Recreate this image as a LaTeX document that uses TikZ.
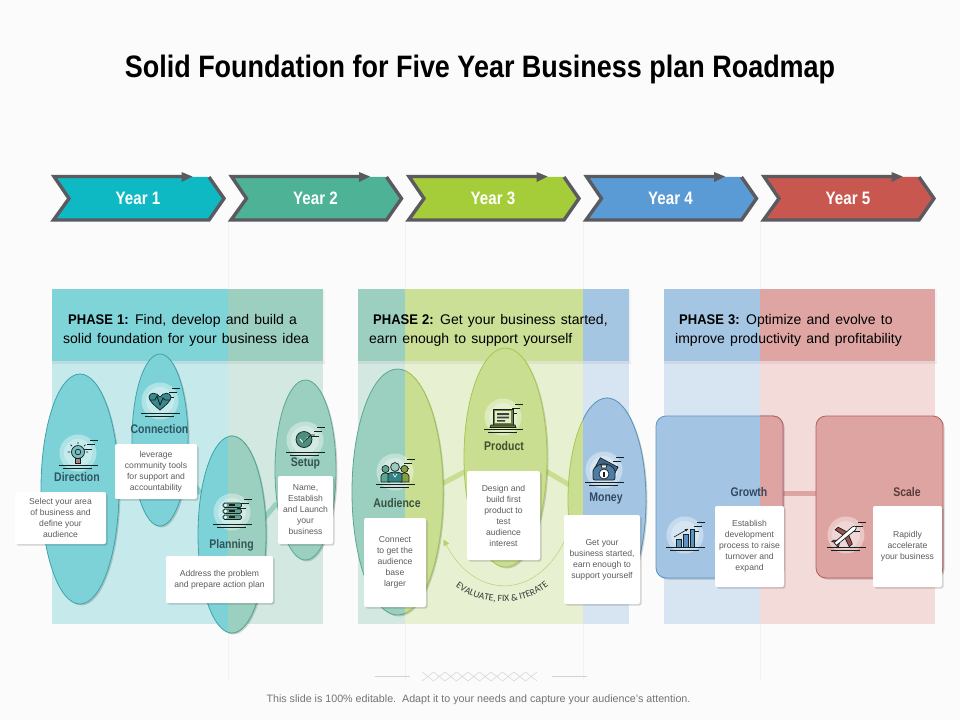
\documentclass[tikz,border=0pt]{standalone}
\usepackage{fontspec}
\usetikzlibrary{shapes.geometric,shadows,arrows.meta,decorations.text,calc}
\setmainfont{Liberation Sans}
\newfontfamily\condfont[FakeStretch=0.84]{Liberation Sans}
\newfontfamily\titlefont[FakeStretch=0.87]{Liberation Sans}
\newfontfamily\phasefont[WordSpace=1.35]{Liberation Sans}
\newfontfamily\phasebold[FakeStretch=0.93,WordSpace=1.1]{Liberation Sans Bold}
\newfontfamily\carlitofont{Carlito}
\definecolor{pagebg}{HTML}{FBFBFB}
\definecolor{tealF}{HTML}{7DD2D8}\definecolor{tealB}{HTML}{3FA3A8}\definecolor{tealH}{HTML}{7FD4D8}\definecolor{tealP}{HTML}{C6E9EB}
\definecolor{mintF}{HTML}{9BCFC0}\definecolor{mintB}{HTML}{5AA892}\definecolor{mintH}{HTML}{9DCFC1}\definecolor{mintP}{HTML}{D2E8E1}
\definecolor{limeF}{HTML}{C9DE91}\definecolor{limeB}{HTML}{A5C94F}\definecolor{limeH}{HTML}{CBDF96}\definecolor{limeP}{HTML}{E8F0D2}
\definecolor{bluF}{HTML}{A3C5E3}\definecolor{bluB}{HTML}{5B93C5}\definecolor{bluH}{HTML}{A5C6E3}\definecolor{bluP}{HTML}{D7E4F2}
\definecolor{redF}{HTML}{DEA4A2}\definecolor{redB}{HTML}{B75E5A}\definecolor{redH}{HTML}{DFA5A3}\definecolor{redP}{HTML}{F3DBDA}
\definecolor{chevA}{HTML}{0FB9C4}\definecolor{chevB}{HTML}{4EB396}\definecolor{chevC}{HTML}{A5CD39}\definecolor{chevD}{HTML}{5B9BD5}\definecolor{chevE}{HTML}{C8574F}
\definecolor{edgeGray}{HTML}{5A5A60}
\definecolor{cardText}{HTML}{5C5C5C}
\definecolor{iconInk}{HTML}{16201F}
\definecolor{tagTeal}{HTML}{2F5560}\definecolor{tagMint}{HTML}{33544E}\definecolor{tagLime}{HTML}{434F2E}\definecolor{tagBlue}{HTML}{34485F}\definecolor{tagRed}{HTML}{553B3A}
\pgfdeclarelayer{bands}\pgfdeclarelayer{links}\pgfsetlayers{bands,links,main}
\tikzset{
  softshadow/.style={drop shadow={shadow xshift=1.5pt,shadow yshift=-1.5pt,opacity=.16,fill=black}},
  lobeshape/.style={ellipse,inner sep=0pt,line width=.8pt},
  blockshape/.style={rectangle,rounded corners=10pt,inner sep=0pt,line width=.8pt},
  card/.style={rectangle,fill=white,rounded corners=2pt,inner sep=0pt,align=center,text=cardText,
     font=\fontsize{8.6}{11}\selectfont,softshadow},
  tag/.style={font=\condfont\bfseries\fontsize{12.5}{14}\selectfont,inner sep=0pt},
  yearlabel/.style={font=\condfont\bfseries\fontsize{18}{20}\selectfont,text=white,inner sep=0pt},
  phasetext/.style={anchor=west,align=left,inner sep=0pt,text=black,font=\phasefont\fontsize{14}{19}\selectfont},
  link/.style={line width=5pt},
  ink/.style={draw=iconInk,line width=.7pt},
  inkline/.style={draw=iconInk,line width=.8pt},
}
% chevron: name, left x, fill, label
\newcommand{\yearchev}[4]{%
  \fill[#3] (#2+1.5,176.5) -- (#2+17,198.5) -- (#2+1.5,220) -- (#2+157,220) -- (#2+172,198.5) -- (#2+157,177) -- cycle;
  \draw[edgeGray,line width=3.4pt,miter limit=10] (#2+157,177) -- (#2+172,198.5) -- (#2+157,220) -- (#2+1.5,220) -- (#2+17,198.5) -- (#2+2,176.5) -- (#2+134,176.5);
  \fill[edgeGray] (#2+129.5,172) -- (#2+140.5,176.5) -- (#2+129.5,182) -- cycle;
  \node[yearlabel] (#1) at (#2+86,198) {#4};
}
\newcommand{\bandseg}[3]{%
  \fill[#3P] (#1,361) rectangle (#2,624);
  \fill[#3H] (#1,289) rectangle (#2,361);
}
\newcommand{\headshadow}[2]{%
  \fill[black,opacity=.03] (#1+1,361) rectangle (#2+2,363.5);
  \fill[black,opacity=.03] (#2,290) rectangle (#2+2,363.5);
}
% lobe: name, cx, cy, w, h, split x, left family, right family
\newcommand{\lobe}[8]{%
  \node[lobeshape,softshadow,minimum width=#4pt,minimum height=#5pt,fill=#7F,draw=#7B] (#1) at (#2,#3) {};
  \begin{scope}\clip (#6,0) rectangle (960,720);
  \node[lobeshape,minimum width=#4pt,minimum height=#5pt,fill=#8F,draw=#8B] (#1r) at (#2,#3) {};
  \end{scope}
}
\newcommand{\block}[8]{%
  \node[blockshape,softshadow,minimum width=#4pt,minimum height=#5pt,fill=#7F,draw=#7B] (#1) at (#2,#3) {};
  \begin{scope}\clip (#6,0) rectangle (960,720);
  \node[blockshape,minimum width=#4pt,minimum height=#5pt,fill=#8F,draw=#8B] (#1r) at (#2,#3) {};
  \end{scope}
}
\newcommand{\iconbase}{%
  \fill[white,opacity=.38] (0,0) circle (18.5pt);
  \fill[white,opacity=.30] (0,0) circle (14pt);
  \draw[inkline] (12,-13) -- (20,-13) (9,-8.5) -- (17,-8.5) (5,-4) -- (14,-4);
  \draw[inkline] (-19,12) -- (20,12) (-15,15) -- (14,15);
}
\begin{document}
\begin{tikzpicture}[x=1pt,y=-1pt]
\useasboundingbox (0,0) rectangle (960,720);
\begin{pgfonlayer}{bands}
\fill[pagebg] (0,0) rectangle (960,720);
\foreach \gx in {228,405,583,760}{\draw[black!5,line width=.5pt] (\gx,222) -- (\gx,680);}
\headshadow{52}{323}\headshadow{358}{629}\headshadow{664}{935}
\bandseg{52}{228}{teal}\bandseg{228}{323}{mint}
\bandseg{358}{405}{mint}\bandseg{405}{583}{lime}\bandseg{583}{629}{blu}
\bandseg{664}{760}{blu}\bandseg{760}{935}{red}
\fill[black,opacity=.05] (52,361) rectangle (323,364);
\fill[black,opacity=.05] (358,361) rectangle (629,364);
\fill[black,opacity=.05] (664,361) rectangle (935,364);
\end{pgfonlayer}

\node[font=\titlefont\bfseries\fontsize{31}{34}\selectfont,text=black,inner sep=0pt] (title) at (480,69) {Solid Foundation for Five Year Business plan Roadmap};

\yearchev{yearA}{52}{chevA}{Year 1}
\yearchev{yearB}{229.5}{chevB}{Year 2}
\yearchev{yearC}{407}{chevC}{Year 3}
\yearchev{yearD}{584.5}{chevD}{Year 4}
\yearchev{yearE}{762}{chevE}{Year 5}

\node[phasetext] (phaseA) at (63,330.5) {\hspace*{5pt}{\phasebold PHASE 1:} Find, develop and build a\\solid foundation for your business idea};
\node[phasetext] (phaseB) at (369,330.5) {\hspace*{4pt}{\phasebold PHASE 2:} Get your business started,\\earn enough to support yourself};
\node[phasetext] (phaseC) at (675,330.5) {\hspace*{4pt}{\phasebold PHASE 3:} Optimize and evolve to\\improve productivity and profitability};

% lobes
\lobe{direction}{80}{489}{78}{230}{2000}{teal}{teal}
\lobe{connection}{160}{440}{56}{172}{2000}{teal}{teal}
\lobe{planning}{232}{534.5}{68}{197}{228}{teal}{mint}
\lobe{setup}{305.5}{470}{61}{180}{2000}{mint}{mint}
\lobe{audience}{397.5}{492}{91}{246}{405}{mint}{lime}
\lobe{product}{505.5}{457.5}{83}{219}{2000}{lime}{lime}
\lobe{money}{607}{500}{78}{204}{583}{lime}{blu}
\block{growth}{719.5}{497}{127}{162}{760}{blu}{red}
\block{scale}{879.5}{497}{127}{162}{2000}{red}{red}

% connectors
\begin{pgfonlayer}{links}
\draw[link,tealF] (direction) -- (connection);
\draw[link,tealF!60!mintF] (connection) -- (planning);
\draw[link,mintF] ([yshift=-21pt]planning.center) -- (setup);
\draw[link,limeF] ([yshift=-15pt]audience.center) -- ([yshift=7pt]product.center);
\draw[link,limeF] ([yshift=10pt]product.center) -- ([yshift=-7pt]money.center);
\draw[link,redF] ([yshift=4pt]growth.center) -- ([yshift=4pt]scale.center);
\end{pgfonlayer}

% feedback arc
\coordinate (evalStart) at (564,542);
\coordinate (evalEnd) at (443.5,539.5);
\draw[limeB!85!white,line width=.6pt,dash pattern=on 2pt off .6pt,-{Triangle[length=6pt,width=6pt]}] (evalStart) .. controls (535,600) and (475,600) .. (evalEnd);
\path[decorate,decoration={text along path,text align=center,
  text={|\carlitofont\fontsize{9.6}{10}\selectfont\color{black!78}|EVALUATE, FIX {\&} ITERATE}}]
  (449,581) .. controls (478,609) and (527,609) .. (555,580);

% cards
\node[card,minimum width=91pt,minimum height=52pt] (cardDirection) at (60.5,518) {Select  your area\\of business and\\define your\\audience};
\node[card,minimum width=82pt,minimum height=55pt] (cardConnection) at (156,471.5) {leverage\\community tools\\for support and\\accountability};
\node[card,minimum width=107pt,minimum height=47pt] (cardPlanning) at (219.5,579.5) {Address the problem\\and prepare action plan};
\node[card,minimum width=55pt,minimum height=68pt] (cardSetup) at (305.5,510) {Name,\\Establish\\and Launch\\your\\business};
\node[card,minimum width=62pt,minimum height=89pt] (cardAudience) at (395,562.5) {Connect\\to get the\\audience\\base\\larger};
\node[card,minimum width=73pt,minimum height=89pt] (cardProduct) at (503.5,515.5) {Design and\\build first\\product to\\test\\audience\\interest};
\node[card,minimum width=76pt,minimum height=89pt] (cardMoney) at (602,559.5) {Get your\\business started,\\earn enough to\\support yourself};
\node[card,minimum width=69pt,minimum height=81pt] (cardGrowth) at (749.5,546.5) {Establish\\development\\process to raise\\turnover and\\expand};
\node[card,minimum width=69pt,minimum height=81pt] (cardScale) at (907.5,546.5) {Rapidly\\accelerate\\your business};

% labels
\node[tag,text=tagTeal] (tagDirection) at (77,477) {Direction};
\node[tag,text=tagTeal] (tagConnection) at (159.5,429) {Connection};
\node[tag,text=tagTeal!60!tagMint] (tagPlanning) at (231.5,545) {Planning};
\node[tag,text=tagMint] (tagSetup) at (305.5,463) {Setup};
\node[tag,text=tagMint!60!tagLime] (tagAudience) at (397,503) {Audience};
\node[tag,text=tagLime] (tagProduct) at (504,446) {Product};
\node[tag,text=tagBlue] (tagMoney) at (606,498) {Money};
\node[tag,text=tagBlue] (tagGrowth) at (749,492.5) {Growth};
\node[tag,text=tagRed] (tagScale) at (907,492.5) {Scale};

% icons
\begin{scope}[shift={(78,453)}]\iconbase
  \draw[ink,fill=tealB!70!white] (0,-1) circle (6.5pt);
  \draw[ink] (0,-1) circle (2.8pt);
  \draw[ink,fill=redF!80!black] (-2.5,5.5) rectangle (2.5,10);
  \draw[ink] (0,-9) -- (0,-11) (-6,-7) -- (-7.5,-8.5) (6,-7) -- (7.5,-8.5) (-8,-1) -- (-10.5,-1) (8,-1) -- (10,-1);
\end{scope}
\begin{scope}[shift={(160,401)}]\iconbase
  \draw[ink,fill=tealB!85!black] (0,9) .. controls (-6,4) and (-11,0) .. (-11,-4) .. controls (-11,-9) and (-3,-9) .. (0,-4) .. controls (3,-9) and (11,-9) .. (11,-4) .. controls (11,0) and (6,4) .. (0,9) -- cycle;
  \draw[iconInk,line width=.8pt] (-10,-1) -- (-5,-1) -- (-3,-5) -- (0,4) -- (3,-3) -- (5,-1) -- (10,-1);
\end{scope}
\begin{scope}[shift={(232,512)}]\iconbase
  \foreach \sy/\sa in {-7/-9,-1/-3,5/3}{
    \draw[ink,fill=mintB,rounded corners=1.5pt] (-9,\sa) rectangle (9.5,\sa+4.5);
    \fill[white] (-6.5,\sy+.2) circle (1.6pt);
    \fill[iconInk] (-3,\sa+1) rectangle (3,\sa+3);
  }
\end{scope}
\begin{scope}[shift={(305,440)}]\iconbase
  \draw[ink,fill=mintB!85!black] (-1,-.5) circle (8pt);
  \draw[white,line width=.9pt] (-5,-1) -- (-2,2.5) -- (3,-3);
  \draw[iconInk,line width=.8pt] (-2,2.5) -- (6,-5) -- (10,-5);
\end{scope}
\begin{scope}[shift={(395,472)}]\iconbase
  \draw[ink,fill=mintB] (-14,10) -- (-14,4) .. controls (-14,0) and (-5,0) .. (-5,4) -- (-5,10) -- cycle;
  \draw[ink,fill=mintB] (-9.5,-3) circle (3.6pt);
  \draw[ink,fill=limeB!80!black] (14,10) -- (14,4) .. controls (14,0) and (5,0) .. (5,4) -- (5,10) -- cycle;
  \draw[ink,fill=limeB!80!black] (9.5,-3) circle (3.6pt);
  \draw[ink,fill=tealB!80!black] (-7,10) -- (-7,3) .. controls (-7,-1) and (7,-1) .. (7,3) -- (7,10) -- cycle;
  \draw[ink,fill=mintB!60!white] (0,-5) circle (4.4pt);
  \draw[white,line width=.6pt] (-2,2) -- (0,5) -- (2,2);
\end{scope}
\begin{scope}[shift={(503,417)}]\iconbase
  \draw[ink,fill=limeB!45!black!70!limeF] (-10,-8) rectangle (10,8);
  \fill[limeF!50!white] (-8,-6) rectangle (8,6);
  \fill[iconInk!85] (-6,-4) rectangle (6,-2) (-6,-.5) rectangle (6,1.3) (-6,3) rectangle (2,4.5);
  \draw[ink,fill=limeB!60!black] (-12,8) -- (12,8) -- (13,10.5) -- (-13,10.5) -- cycle;
\end{scope}
\begin{scope}[shift={(604,470)}]\iconbase
  \draw[ink,fill=bluB!70!black,rotate=-28] (-9,-9) rectangle (11,5);
  \draw[ink,fill=bluB!85!black,rounded corners=2pt] (-11,-1) -- (-4,-6) -- (4,-6) -- (11,-1) -- (11,10) -- (-11,10) -- cycle;
  \draw[ink,fill=white] (-3,-5) -- (3,-5) -- (2,-2) -- (-2,-2) -- cycle;
  \draw[ink,fill=white] (0,4) circle (5pt);
  \fill[iconInk] (-.8,1.5) rectangle (.8,6.5);
\end{scope}
\begin{scope}[shift={(685,535)}]\iconbase
  \draw[ink,fill=bluB] (-9,4) rectangle (-4,12);
  \draw[ink,fill=bluB] (-2,-1) rectangle (3,12);
  \draw[ink,fill=bluB] (5,-6) rectangle (9,12);
  \draw[iconInk,line width=.6pt] (-11,2) -- (3,-6);
  \fill[iconInk] (3,-6) -- (-.5,-6) -- (1,-3.5) -- cycle;
\end{scope}
\begin{scope}[shift={(846,535)}]\iconbase
  \begin{scope}[rotate=40]
  \draw[ink,fill=redB!85!black] (-2,-1) -- (-5,11) -- (-1,11) -- (3,-1) -- cycle;
  \draw[ink,fill=redB!85!black] (-2,-1) -- (-5,-11) -- (-1,-11) -- (3,-1) -- cycle;
  \draw[ink,fill=redB!85!black] (-12,0) -- (-15,-4) -- (-13,-4) -- (-9,-1) -- (-9,1) -- (-13,4) -- (-15,4) -- cycle;
  \draw[ink,fill=white] (-14,-1.7) -- (10,-2.2) .. controls (14,-1.5) and (14,1.5) .. (10,2.2) -- (-14,1.7) -- cycle;
  \end{scope}
\end{scope}

% footer ornament
\coordinate (ornL) at (375,676.5);\coordinate (ornLe) at (410,676.5);
\coordinate (ornR) at (552,676.5);\coordinate (ornRe) at (587,676.5);
\draw[black!18,line width=.6pt] (ornL) -- (ornLe) (ornR) -- (ornRe);
\foreach \k in {0,...,9}{
  \draw[black!14,line width=.7pt] (422+11.5*\k,672) -- (422+11.5*\k+11.5,681) (422+11.5*\k,681) -- (422+11.5*\k+11.5,672);
}
\node[inner sep=0pt,text=black!55,font=\fontsize{10.7}{12}\selectfont] (foot) at (478.5,699.5) {This slide is 100\% editable.\ \ Adapt it to your needs and capture your audience's attention.};
\end{tikzpicture}
\end{document}
